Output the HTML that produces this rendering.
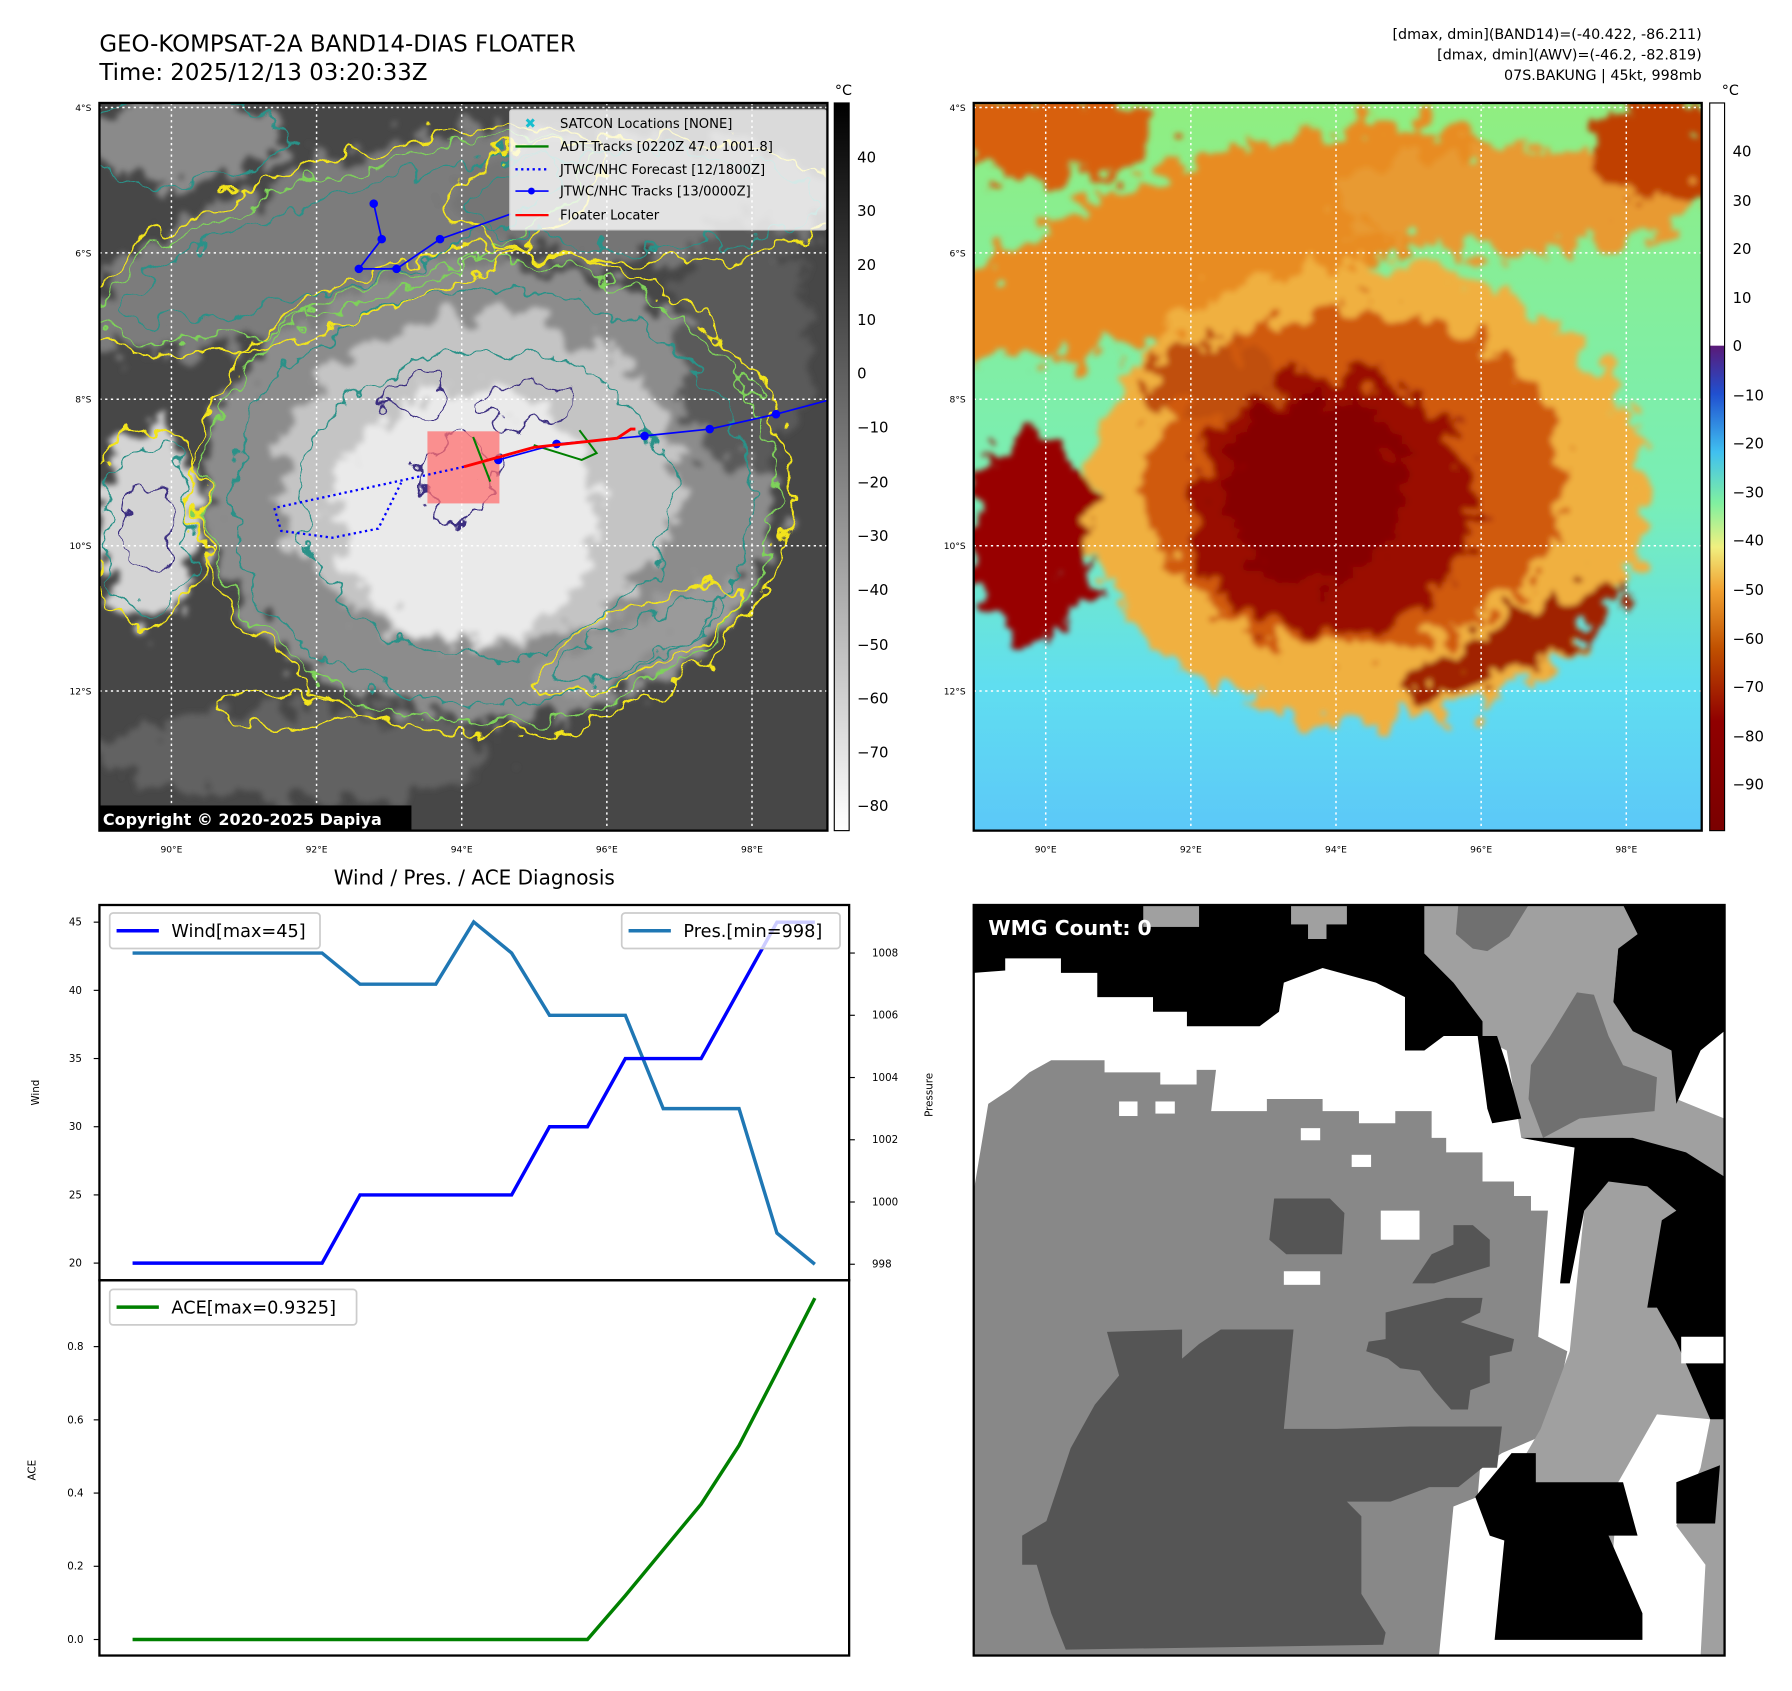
<!DOCTYPE html>
<html><head><meta charset="utf-8">
<style>
html,body{margin:0;padding:0;background:#fff;}
svg{display:block;font-family:"DejaVu Sans","Liberation Sans",sans-serif;}
</style></head>
<body>
<svg id="root" width="1792" height="1691" viewBox="0 0 1568 1478" preserveAspectRatio="none" xmlns="http://www.w3.org/2000/svg">
<defs>
  <filter id="rough" x="-10%" y="-10%" width="120%" height="120%">
    <feTurbulence type="fractalNoise" baseFrequency="0.035" numOctaves="3" seed="4" result="n"/>
    <feDisplacementMap in="SourceGraphic" in2="n" scale="40" xChannelSelector="R" yChannelSelector="G"/>
  </filter>
  <filter id="cloud" x="-20%" y="-20%" width="140%" height="140%">
    <feTurbulence type="fractalNoise" baseFrequency="0.045" numOctaves="4" seed="7" result="n"/>
    <feDisplacementMap in="SourceGraphic" in2="n" scale="60" xChannelSelector="R" yChannelSelector="G" result="d"/>
    <feGaussianBlur in="d" stdDeviation="2.5"/>
  </filter>
  <clipPath id="clipL"><rect x="87" y="90" width="637" height="636"/></clipPath>
  <clipPath id="clipR"><rect x="852" y="90" width="637" height="636"/></clipPath>
  <clipPath id="clipW"><rect x="852" y="791" width="657" height="656"/></clipPath>
  <linearGradient id="cbGray" x1="0" y1="1" x2="0" y2="0">
    <stop offset="0" stop-color="#ffffff"/><stop offset="1" stop-color="#000000"/>
  </linearGradient>
  <linearGradient id="cbColor" x1="0" y1="0" x2="0" y2="1">
    <stop offset="0" stop-color="#ffffff"/>
    <stop offset="0.333" stop-color="#ffffff"/>
    <stop offset="0.334" stop-color="#5a1a78"/>
    <stop offset="0.40" stop-color="#2050d0"/>
    <stop offset="0.48" stop-color="#40c0f0"/>
    <stop offset="0.55" stop-color="#80f0a0"/>
    <stop offset="0.61" stop-color="#f0f080"/>
    <stop offset="0.67" stop-color="#f0a030"/>
    <stop offset="0.75" stop-color="#c05000"/>
    <stop offset="0.85" stop-color="#900000"/>
    <stop offset="1" stop-color="#7a0000"/>
  </linearGradient>
  <linearGradient id="rBase" x1="0" y1="0" x2="0" y2="1">
    <stop offset="0" stop-color="#90ee80"/>
    <stop offset="0.55" stop-color="#78eeb8"/>
    <stop offset="0.8" stop-color="#60def0"/>
    <stop offset="1" stop-color="#5cc8f8"/>
  </linearGradient>
</defs>

<!-- Titles -->
<text x="87" y="45" font-size="20" fill="#000">GEO-KOMPSAT-2A BAND14-DIAS FLOATER</text>
<text x="87" y="70" font-size="20" fill="#000">Time: 2025/12/13 03:20:33Z</text>
<g font-size="12.5" text-anchor="end" fill="#000">
  <text x="1489" y="34">[dmax, dmin](BAND14)=(-40.422, -86.211)</text>
  <text x="1489" y="52">[dmax, dmin](AWV)=(-46.2, -82.819)</text>
  <text x="1489" y="70">07S.BAKUNG | 45kt, 998mb</text>
</g>

<!-- LEFT MAP -->
<g clip-path="url(#clipL)">
  <rect x="87" y="90" width="637" height="636" fill="#474747"/>
  <g filter="url(#cloud)">
    <ellipse cx="300" cy="210" rx="240" ry="70" transform="rotate(-18 300 210)" fill="#7c7c7c"/>
    <ellipse cx="560" cy="175" rx="170" ry="55" fill="#747474"/>
    <ellipse cx="160" cy="120" rx="90" ry="40" fill="#8a8a8a"/>
    <ellipse cx="430" cy="430" rx="250" ry="200" fill="#8c8c8c"/>
    <ellipse cx="420" cy="420" rx="175" ry="145" fill="#c4c4c4"/>
    <ellipse cx="410" cy="450" rx="115" ry="110" fill="#eaeaea"/>
    <ellipse cx="130" cy="460" rx="45" ry="85" fill="#d4d4d4"/>
    <ellipse cx="560" cy="560" rx="100" ry="24" transform="rotate(-25 560 560)" fill="#9a9a9a"/>
    <ellipse cx="260" cy="660" rx="170" ry="40" fill="#626262"/>
    <ellipse cx="650" cy="300" rx="60" ry="110" fill="#5a5a5a"/>
  </g>
  <g filter="url(#rough)" fill="none">
    <ellipse cx="430" cy="430" rx="262" ry="212" stroke="#f2e41c" stroke-width="2"/>
    <ellipse cx="430" cy="430" rx="252" ry="202" stroke="#7ed25a" stroke-width="1.6"/>
    <ellipse cx="430" cy="435" rx="228" ry="182" stroke="#2a9188" stroke-width="1.6"/>
    <ellipse cx="425" cy="440" rx="160" ry="135" stroke="#2a9188" stroke-width="1.6"/>
    <ellipse cx="300" cy="210" rx="240" ry="70" transform="rotate(-18 300 210)" stroke="#f2e41c" stroke-width="2"/>
    <ellipse cx="300" cy="210" rx="225" ry="58" transform="rotate(-18 300 210)" stroke="#7ed25a" stroke-width="1.5"/>
    <ellipse cx="300" cy="210" rx="200" ry="40" transform="rotate(-18 300 210)" stroke="#2a9188" stroke-width="1.5"/>
    <ellipse cx="560" cy="175" rx="170" ry="55" stroke="#f2e41c" stroke-width="2"/>
    <ellipse cx="560" cy="175" rx="150" ry="42" stroke="#2a9188" stroke-width="1.5"/>
    <ellipse cx="160" cy="120" rx="90" ry="40" stroke="#2a9188" stroke-width="1.5"/>
    <ellipse cx="130" cy="460" rx="48" ry="90" stroke="#f2e41c" stroke-width="2"/>
    <ellipse cx="130" cy="460" rx="38" ry="75" stroke="#2a9188" stroke-width="1.5"/>
    <ellipse cx="130" cy="460" rx="24" ry="40" stroke="#3b2d80" stroke-width="1.5"/>
    <ellipse cx="560" cy="560" rx="100" ry="26" transform="rotate(-25 560 560)" stroke="#f2e41c" stroke-width="2"/>
    <ellipse cx="560" cy="560" rx="80" ry="16" transform="rotate(-25 560 560)" stroke="#2a9188" stroke-width="1.5"/>
    <ellipse cx="360" cy="345" rx="28" ry="16" stroke="#3b2d80" stroke-width="1.5"/>
    <ellipse cx="460" cy="355" rx="40" ry="18" stroke="#3b2d80" stroke-width="1.5"/>
    <ellipse cx="400" cy="420" rx="30" ry="38" stroke="#3b2d80" stroke-width="1.5"/>
    <ellipse cx="250" cy="620" rx="60" ry="14" stroke="#f2e41c" stroke-width="2"/>
  </g>
  <g stroke="#fff" stroke-width="1.3" stroke-dasharray="2,3">
    <line x1="150" y1="90" x2="150" y2="726"/><line x1="277" y1="90" x2="277" y2="726"/>
    <line x1="404" y1="90" x2="404" y2="726"/><line x1="531" y1="90" x2="531" y2="726"/>
    <line x1="658" y1="90" x2="658" y2="726"/>
    <line x1="87" y1="94" x2="724" y2="94"/><line x1="87" y1="221" x2="724" y2="221"/>
    <line x1="87" y1="349" x2="724" y2="349"/><line x1="87" y1="477" x2="724" y2="477"/>
    <line x1="87" y1="604" x2="724" y2="604"/>
  </g>
  <rect x="374" y="377" width="63" height="63" fill="#ff7070" fill-opacity="0.75"/>
  <polyline points="406,408 351,420 240,444 246,464 291,470 331,462 351,422" fill="none" stroke="#0000ff" stroke-width="2" stroke-dasharray="2,3"/>
  <polyline points="507,376 522,396 509,402 467,389" fill="none" stroke="#008000" stroke-width="1.8"/>
  <polyline points="414,382 429,421" fill="none" stroke="#008000" stroke-width="1.8"/>
  <g fill="#0000ff" stroke="#0000ff" stroke-width="1.5">
    <polyline points="327,178 334,209 314,235 347,235 385,209 447,187" fill="none"/>
    <polyline points="724,350 679,362 621,375 564,381 487,388 436,402" fill="none"/>
    <circle cx="327" cy="178" r="3"/><circle cx="334" cy="209" r="3"/><circle cx="314" cy="235" r="3"/>
    <circle cx="347" cy="235" r="3"/><circle cx="385" cy="209" r="3"/>
    <circle cx="679" cy="362" r="3"/><circle cx="621" cy="375" r="3"/><circle cx="564" cy="381" r="3"/>
    <circle cx="487" cy="388" r="3"/><circle cx="436" cy="402" r="3"/>
  </g>
  <polyline points="406,408 467,391 540,383 552,375 556,375" fill="none" stroke="#ff0000" stroke-width="2.5"/>
  <g>
    <rect x="446" y="96" width="277" height="105" fill="#ffffff" fill-opacity="0.8" stroke="#cccccc" rx="2"/>
    <text x="464" y="112" font-size="12" fill="#17becf" text-anchor="middle">✖</text>
    <line x1="451" y1="128" x2="480" y2="128" stroke="#008000" stroke-width="2"/>
    <line x1="451" y1="148" x2="480" y2="148" stroke="#0000ff" stroke-width="2" stroke-dasharray="2,3"/>
    <line x1="451" y1="167" x2="480" y2="167" stroke="#0000ff" stroke-width="1.5"/><circle cx="465" cy="167" r="3" fill="#0000ff"/>
    <line x1="451" y1="188" x2="480" y2="188" stroke="#ff0000" stroke-width="2"/>
    <g font-size="11.5" fill="#000">
      <text x="490" y="112">SATCON Locations [NONE]</text>
      <text x="490" y="132">ADT Tracks [0220Z 47.0 1001.8]</text>
      <text x="490" y="152">JTWC/NHC Forecast [12/1800Z]</text>
      <text x="490" y="171">JTWC/NHC Tracks [13/0000Z]</text>
      <text x="490" y="192">Floater Locater</text>
    </g>
  </g>
  <rect x="84" y="704" width="276" height="24" fill="#000"/>
  <text x="90" y="721" font-size="14" font-weight="bold" fill="#fff">Copyright © 2020-2025 Dapiya</text>
</g>
<rect x="87" y="90" width="637" height="636" fill="none" stroke="#000" stroke-width="2"/>
<g font-size="8" fill="#000">
  <g text-anchor="end"><text x="80" y="97">4°S</text><text x="80" y="224">6°S</text><text x="80" y="352">8°S</text><text x="80" y="480">10°S</text><text x="80" y="607">12°S</text></g>
  <g text-anchor="middle"><text x="150" y="745">90°E</text><text x="277" y="745">92°E</text><text x="404" y="745">94°E</text><text x="531" y="745">96°E</text><text x="658" y="745">98°E</text></g>
</g>
<g>
  <rect x="730" y="90" width="13" height="636" fill="url(#cbGray)" stroke="#000" stroke-width="1"/>
  <text x="738" y="83" font-size="12.5" text-anchor="middle">°C</text>
  <g font-size="13" fill="#000">
    <text x="750" y="142">40</text><text x="750" y="189">30</text><text x="750" y="236">20</text>
    <text x="750" y="284">10</text><text x="750" y="331">0</text><text x="750" y="378">−10</text>
    <text x="750" y="426">−20</text><text x="750" y="473">−30</text><text x="750" y="520">−40</text>
    <text x="750" y="568">−50</text><text x="750" y="615">−60</text><text x="750" y="662">−70</text>
    <text x="750" y="709">−80</text>
  </g>
</g>

<!-- RIGHT MAP -->
<g clip-path="url(#clipR)">
  <rect x="852" y="90" width="637" height="636" fill="url(#rBase)"/>
  <g filter="url(#cloud)">
    <ellipse cx="1065" cy="210" rx="250" ry="70" transform="rotate(-18 1065 210)" fill="#e88c20"/>
    <ellipse cx="1325" cy="175" rx="160" ry="45" fill="#e89a30"/>
    <ellipse cx="925" cy="120" rx="90" ry="40" fill="#d86010"/>
    <ellipse cx="1450" cy="130" rx="60" ry="45" fill="#c04000"/>
    <ellipse cx="1195" cy="430" rx="245" ry="200" fill="#f0b040"/>
    <ellipse cx="1185" cy="420" rx="185" ry="150" fill="#d05a10"/>
    <ellipse cx="1165" cy="440" rx="125" ry="115" fill="#9a1000"/>
    <ellipse cx="1150" cy="430" rx="80" ry="80" fill="#860000"/>
    <ellipse cx="900" cy="470" rx="55" ry="90" fill="#980000"/>
    <ellipse cx="1330" cy="560" rx="110" ry="22" transform="rotate(-25 1330 560)" fill="#a02000"/>
    <ellipse cx="1060" cy="330" rx="60" ry="30" fill="#c05010"/>
  </g>
  <g stroke="#fff" stroke-width="1.3" stroke-dasharray="2,3">
    <line x1="915" y1="90" x2="915" y2="726"/><line x1="1042" y1="90" x2="1042" y2="726"/>
    <line x1="1169" y1="90" x2="1169" y2="726"/><line x1="1296" y1="90" x2="1296" y2="726"/>
    <line x1="1423" y1="90" x2="1423" y2="726"/>
    <line x1="852" y1="94" x2="1489" y2="94"/><line x1="852" y1="221" x2="1489" y2="221"/>
    <line x1="852" y1="349" x2="1489" y2="349"/><line x1="852" y1="477" x2="1489" y2="477"/>
    <line x1="852" y1="604" x2="1489" y2="604"/>
  </g>
</g>
<rect x="852" y="90" width="637" height="636" fill="none" stroke="#000" stroke-width="2"/>
<g font-size="8" fill="#000">
  <g text-anchor="end"><text x="845" y="97">4°S</text><text x="845" y="224">6°S</text><text x="845" y="352">8°S</text><text x="845" y="480">10°S</text><text x="845" y="607">12°S</text></g>
  <g text-anchor="middle"><text x="915" y="745">90°E</text><text x="1042" y="745">92°E</text><text x="1169" y="745">94°E</text><text x="1296" y="745">96°E</text><text x="1423" y="745">98°E</text></g>
</g>
<g>
  <rect x="1496" y="90" width="13" height="636" fill="url(#cbColor)" stroke="#000" stroke-width="1"/>
  <text x="1514" y="83" font-size="12.5" text-anchor="middle">°C</text>
  <g font-size="13" fill="#000">
    <text x="1516" y="137">40</text><text x="1516" y="180">30</text><text x="1516" y="222">20</text>
    <text x="1516" y="265">10</text><text x="1516" y="307">0</text><text x="1516" y="350">−10</text>
    <text x="1516" y="392">−20</text><text x="1516" y="435">−30</text><text x="1516" y="477">−40</text>
    <text x="1516" y="520">−50</text><text x="1516" y="563">−60</text><text x="1516" y="605">−70</text>
    <text x="1516" y="648">−80</text><text x="1516" y="690">−90</text>
  </g>
</g>

<!-- WMG PANEL -->
<g clip-path="url(#clipW)">
  <g transform="translate(852,791) scale(0.424)">
    <rect x="0" y="0" width="1549" height="1549" fill="#ffffff"/>
    <polygon fill="#888888" points="0,590 30,410 75,380 115,345 160,320 270,320 270,345 385,345 385,370 460,370 460,340 500,340 490,425 605,425 605,400 720,400 720,425 795,425 795,450 870,450 870,425 945,425 945,480 975,480 975,510 1050,510 1050,570 1115,570 1115,600 1150,600 1150,630 1185,630 1165,890 1225,920 1200,1040 1160,1100 1090,1130 1045,1160 1040,1220 990,1240 960,1549 0,1549"/>
    <polygon fill="#888888" points="0,800 60,800 60,820 0,830"/>
    <polygon fill="#a0a0a0" points="930,0 1340,0 1370,60 1330,90 1320,200 1360,260 1445,300 1450,400 1549,440 1549,1549 1500,1549 1510,1360 1450,1280 1500,1160 1520,1060 1410,1050 1330,1190 1310,1460 1100,1200 1170,1080 1230,920 1260,630 1240,500 1130,480 1100,300 1040,270 990,160 930,100"/>
    <polygon fill="#a0a0a0" points="655,0 770,0 770,40 728,40 728,70 690,70 690,40 655,40"/>
    <polygon fill="#a0a0a0" points="350,0 465,0 465,45 350,45"/>
    <polygon fill="#707070" points="1190,270 1245,180 1280,185 1310,270 1340,330 1410,355 1405,425 1250,440 1175,480 1145,400 1150,330"/>
    <polygon fill="#707070" points="1000,0 1145,0 1105,65 1060,95 1030,90 995,60"/>
    <polygon fill="#000000" points="0,0 350,0 350,45 465,45 465,0 655,0 655,40 690,40 690,70 728,70 728,40 770,40 770,0 930,0 930,100 990,160 1050,240 1050,270 970,270 930,300 890,300 890,190 830,160 720,130 640,160 630,220 590,250 440,250 440,220 370,220 370,190 255,190 255,140 180,140 180,110 65,110 65,135 0,140"/>
    <polygon fill="#000000" points="1040,270 1080,270 1100,330 1130,440 1070,450 1060,420"/>
    <polygon fill="#000000" points="1340,0 1549,0 1549,260 1500,300 1450,410 1440,300 1360,260 1320,200 1330,90 1370,60"/>
    <polygon fill="#000000" points="1130,480 1360,480 1470,510 1549,560 1549,1060 1520,1060 1450,900 1410,830 1390,830 1420,650 1450,630 1390,580 1310,570 1260,630 1230,780 1210,780 1240,500"/>
    <polygon fill="#000000" points="1035,1220 1110,1130 1160,1130 1160,1190 1340,1190 1370,1300 1310,1300 1380,1460 1380,1515 1075,1515 1095,1310 1065,1300"/>
    <polygon fill="#000000" points="1450,1190 1540,1155 1530,1275 1450,1275"/>
    <polygon fill="#ffffff" points="1460,890 1549,890 1549,945 1460,945"/>
    <polygon fill="#555555" points="100,1300 150,1270 200,1120 250,1030 300,970 275,880 430,875 430,935 465,905 510,875 660,875 640,1080 750,1080 900,1075 1090,1075 1080,1160 1050,1160 1000,1200 940,1200 860,1230 770,1230 800,1260 800,1420 850,1500 845,1525 190,1535 160,1460 130,1360 100,1360"/>
    <polygon fill="#555555" points="620,605 735,605 765,635 760,720 645,720 610,690"/>
    <polygon fill="#555555" points="990,660 1030,660 1065,690 1065,745 950,780 905,780 945,720 990,700"/>
    <polygon fill="#555555" points="850,840 975,810 1050,810 1045,840 1005,860 1115,895 1110,920 1065,930 1065,985 1025,1000 1020,1040 985,1040 950,1000 920,960 880,955 855,935 810,920 815,900 850,895"/>
    <g fill="#ffffff">
      <rect x="300" y="405" width="38" height="30"/><rect x="375" y="405" width="40" height="25"/>
      <rect x="675" y="460" width="40" height="25"/><rect x="780" y="515" width="40" height="25"/>
      <rect x="840" y="630" width="80" height="60"/><rect x="640" y="755" width="75" height="28"/>
    </g>
    <text x="30" y="62" font-size="42" font-weight="bold" fill="#ffffff">WMG Count: 0</text>
  </g>
</g>
<rect x="852" y="791" width="657" height="656" fill="none" stroke="#000" stroke-width="2"/>

<!-- DIAGNOSIS CHARTS -->
<text x="415" y="773" font-size="17.5" text-anchor="middle">Wind / Pres. / ACE Diagnosis</text>
<g id="charts"></g>

<script>
const windTicks = [20, 25, 30, 35, 40, 45];
const presTicks = [998, 1000, 1002, 1004, 1006, 1008];
const aceTicks = [0.0, 0.2, 0.4, 0.6, 0.8];
const windValues = [20,20,20,20,20,20,25,25,25,25,25,30,30,35,35,35,40,45,45];
const presValues = [1008,1008,1008,1008,1008,1008,1007,1007,1007,1009,1008,1006,1006,1006,1003,1003,1003,999,998];
const aceValues = [0,0,0,0,0,0,0,0,0,0,0,0,0,0.12,0.245,0.37,0.53,0.73,0.9325];

const NS = "http://www.w3.org/2000/svg";
const g = document.getElementById('charts');
function xIdx(i){ return 116 + i * (713 - 116) / (windValues.length - 1); }
function yWind(v){ return 1104 - (v - 20) * 11.92; }
function yPres(p){ return 1105 - (p - 998) * 27.2; }
function yAce(v){ return 1433 - v * 320; }
function mk(tag, attrs){ const e = document.createElementNS(NS, tag); for (const k in attrs) e.setAttribute(k, attrs[k]); g.appendChild(e); return e; }
function txt(s, attrs){ const e = mk('text', attrs); e.textContent = s; return e; }

let f1 = mk('rect', {x:87, y:791, width:656, height:328, fill:'none', stroke:'#000', 'stroke-width':2});


let f2 = mk('rect', {x:87, y:1119, width:656, height:328, fill:'none', stroke:'#000', 'stroke-width':2});



windTicks.forEach(t => {
  const y = yWind(t);
  const l = mk('line', {x1:82, y1:y, x2:87, y2:y, stroke:'#000', 'stroke-width':1});
  
  
  const s = txt(String(t), {x:66, y:y+3, 'font-size':9, 'text-anchor':'middle'});
  
  
});
presTicks.forEach(t => {
  const y = yPres(t);
  const l = mk('line', {x1:743, y1:y, x2:748, y2:y, stroke:'#000', 'stroke-width':1});
  
  
  const s = txt(String(t), {x:763, y:y+3, 'font-size':9});
  
  
});
aceTicks.forEach(t => {
  const y = yAce(t);
  const l = mk('line', {x1:82, y1:y, x2:87, y2:y, stroke:'#000', 'stroke-width':1});
  
  
  const s = txt(t.toFixed(1), {x:66, y:y+3, 'font-size':9, 'text-anchor':'middle'});
  
  
});

let a1 = txt('Wind', {x:0, y:0, 'font-size':9, 'text-anchor':'middle', transform:'translate(34,955) rotate(-90)'});


let a2 = txt('Pressure', {x:0, y:0, 'font-size':9, 'text-anchor':'middle', transform:'translate(816,957) rotate(-90)'});


let a3 = txt('ACE', {x:0, y:0, 'font-size':9, 'text-anchor':'middle', transform:'translate(31,1285) rotate(-90)'});



let pres = mk('polyline', {points: presValues.map((v,i)=>xIdx(i)+','+yPres(v)).join(' '), fill:'none', stroke:'#1f77b4', 'stroke-width':3});


let wind = mk('polyline', {points: windValues.map((v,i)=>xIdx(i)+','+yWind(v)).join(' '), fill:'none', stroke:'#0000ff', 'stroke-width':3});


let ace = mk('polyline', {points: aceValues.map((v,i)=>xIdx(i)+','+yAce(v)).join(' '), fill:'none', stroke:'#008000', 'stroke-width':3});



function legend(name, x, y, w, color, label){
  const r = mk('rect', {x:x, y:y, width:w, height:31, fill:'#fff', 'fill-opacity':0.8, stroke:'#cccccc', 'stroke-width':1.5, rx:3});
  
  
  mk('line', {x1:x+6, y1:y+15.5, x2:x+43, y2:y+15.5, stroke:color, 'stroke-width':3});
  const t = txt(label, {x:x+54, y:y+21, 'font-size':15.5});
  
  
}
legend('wind-legend', 96, 798, 184, '#0000ff', 'Wind[max=45]');
legend('pressure-legend', 544, 798, 191, '#1f77b4', 'Pres.[min=998]');
legend('ace-legend', 96, 1127, 216, '#008000', 'ACE[max=0.9325]');
</script>
</svg>
</body></html>
